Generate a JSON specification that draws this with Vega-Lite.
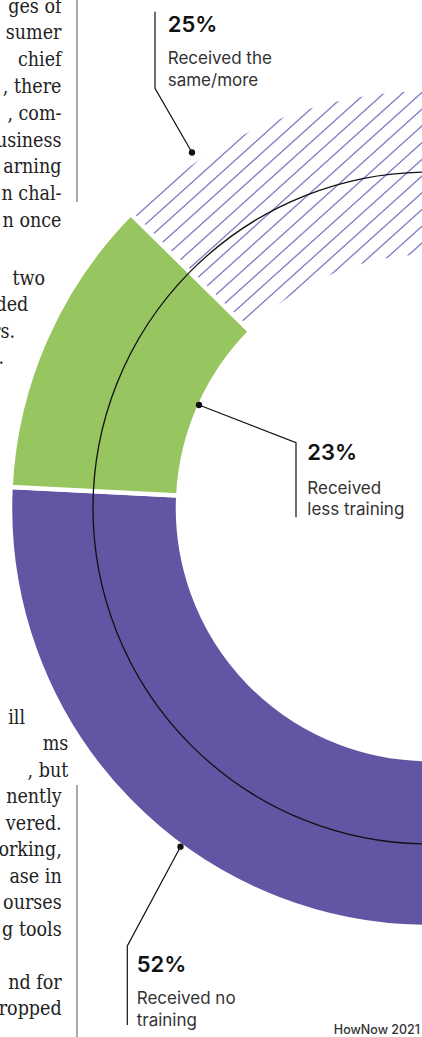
{
  "$schema": "https://vega.github.io/schema/vega-lite/v6.json",
  "width": 422,
  "height": 1037,
  "padding": 0,
  "autosize": "none",
  "background": "white",
  "config": {"view": {"stroke": null}},
  "datasets": {
    "segments": [
      {"segment": "Received no training", "pct": 52, "rank": 1},
      {"segment": "Received less training", "pct": 23, "rank": 2},
      {"segment": "Received the same/more", "pct": 25, "rank": 3}
    ],
    "leaders": [
      {"seg": "same", "i": 0, "x": -274, "y": 496.3},
      {"seg": "same", "i": 1, "x": -274, "y": 419.7},
      {"seg": "same", "i": 2, "x": -237, "y": 355.5},
      {"seg": "less", "i": 0, "x": -230, "y": 103},
      {"seg": "less", "i": 1, "x": -133, "y": 65.3},
      {"seg": "less", "i": 2, "x": -133, "y": -9.3},
      {"seg": "no", "i": 0, "x": -248.5, "y": -338.7},
      {"seg": "no", "i": 1, "x": -301.7, "y": -438},
      {"seg": "no", "i": 2, "x": -301.7, "y": -517}
    ],
    "pcts": [
      {"text": "25%", "x": -261.3, "y": 476.5},
      {"text": "23%", "x": -121.7, "y": 48},
      {"text": "52%", "x": -292.3, "y": -463.5}
    ],
    "descs": [
      {"text": "Received the", "x": -261.3, "y": 444},
      {"text": "same/more", "x": -261.3, "y": 422.5},
      {"text": "Received", "x": -121.7, "y": 14.5},
      {"text": "less training", "x": -121.7, "y": -7},
      {"text": "Received no", "x": -292.3, "y": -496},
      {"text": "training", "x": -292.3, "y": -518}
    ],
    "credit": [
      {"text": "HowNow 2021", "x": -9, "y": -526}
    ],
    "body": [
      {"text": "ges of", "x": -367.5, "y": 495.5},
      {"text": "sumer", "x": -367.5, "y": 468.7},
      {"text": "chief", "x": -367.5, "y": 441.9},
      {"text": ", there", "x": -367.5, "y": 415.1},
      {"text": ", com-", "x": -367.5, "y": 388.3},
      {"text": "usiness", "x": -367.5, "y": 361.5},
      {"text": "arning", "x": -367.5, "y": 334.7},
      {"text": "n chal-", "x": -367.5, "y": 307.9},
      {"text": "n once", "x": -367.5, "y": 281.1},
      {"text": "two", "x": -384, "y": 223.5},
      {"text": "ded", "x": -400.7, "y": 197},
      {"text": "rs.", "x": -414, "y": 170.5},
      {"text": ".", "x": -425, "y": 144},
      {"text": "ill", "x": -404, "y": -215.8},
      {"text": "ms", "x": -360.7, "y": -242.3},
      {"text": ", but", "x": -360.7, "y": -268.8},
      {"text": "nently", "x": -367.3, "y": -295.3},
      {"text": "vered.", "x": -367.3, "y": -321.8},
      {"text": "orking,", "x": -367.3, "y": -348.3},
      {"text": "ase in", "x": -367.3, "y": -374.8},
      {"text": "ourses", "x": -367.3, "y": -401.3},
      {"text": "g tools", "x": -367.3, "y": -427.8},
      {"text": "nd for", "x": -367.3, "y": -480.8},
      {"text": "ropped", "x": -367.3, "y": -507.3}
    ],
    "rules": [
      {"x": -352, "y": 508, "y2": 306},
      {"x": -352, "y": -277, "y2": -529}
    ]
  },
  "layer": [
    {
      "data": {"name": "segments"},
      "mark": {"type": "arc", "radius": 419, "radius2": 251, "stroke": "white", "strokeWidth": 4.5, "clip": true},
      "encoding": {
        "x": {"datum": 0, "type": "quantitative", "scale": {"domain": [-429, -7], "nice": false, "zero": false}, "axis": null},
        "y": {"datum": 0, "type": "quantitative", "scale": {"domain": [-529, 508], "nice": false, "zero": false}, "axis": null},
        "theta": {"field": "pct", "type": "quantitative", "stack": true, "scale": {"domain": [0, 100], "range": [3.11541, 6.28318531]}},
        "order": {"field": "rank", "type": "quantitative"},
        "fill": {
          "field": "segment",
          "type": "nominal",
          "scale": {"domain": ["Received no training", "Received less training", "Received the same/more"], "range": ["#6255a3", "#97c55f", "#ffffff"]},
          "legend": null,
          "condition": {
            "test": "datum.segment === 'Received the same/more'",
            "value": {
              "gradient": "linear", "x1": 0, "y1": 0, "x2": 1.0479, "y2": 0.9471,
              "stops": [
                {"offset": 0, "color": "#ffffff"},
                {"offset": 0.02587, "color": "#ffffff"}, {"offset": 0.02747, "color": "#958bcc"}, {"offset": 0.02987, "color": "#958bcc"}, {"offset": 0.03147, "color": "#ffffff"},
                {"offset": 0.05860, "color": "#ffffff"}, {"offset": 0.06020, "color": "#958bcc"}, {"offset": 0.06260, "color": "#958bcc"}, {"offset": 0.06420, "color": "#ffffff"},
                {"offset": 0.09132, "color": "#ffffff"}, {"offset": 0.09292, "color": "#958bcc"}, {"offset": 0.09532, "color": "#958bcc"}, {"offset": 0.09692, "color": "#ffffff"},
                {"offset": 0.12405, "color": "#ffffff"}, {"offset": 0.12565, "color": "#958bcc"}, {"offset": 0.12805, "color": "#958bcc"}, {"offset": 0.12965, "color": "#ffffff"},
                {"offset": 0.15677, "color": "#ffffff"}, {"offset": 0.15837, "color": "#958bcc"}, {"offset": 0.16077, "color": "#958bcc"}, {"offset": 0.16237, "color": "#ffffff"},
                {"offset": 0.18950, "color": "#ffffff"}, {"offset": 0.19110, "color": "#958bcc"}, {"offset": 0.19350, "color": "#958bcc"}, {"offset": 0.19510, "color": "#ffffff"},
                {"offset": 0.22222, "color": "#ffffff"}, {"offset": 0.22382, "color": "#958bcc"}, {"offset": 0.22622, "color": "#958bcc"}, {"offset": 0.22782, "color": "#ffffff"},
                {"offset": 0.25495, "color": "#ffffff"}, {"offset": 0.25655, "color": "#958bcc"}, {"offset": 0.25895, "color": "#958bcc"}, {"offset": 0.26055, "color": "#ffffff"},
                {"offset": 0.28767, "color": "#ffffff"}, {"offset": 0.28927, "color": "#958bcc"}, {"offset": 0.29167, "color": "#958bcc"}, {"offset": 0.29327, "color": "#ffffff"},
                {"offset": 0.32040, "color": "#ffffff"}, {"offset": 0.32200, "color": "#958bcc"}, {"offset": 0.32440, "color": "#958bcc"}, {"offset": 0.32600, "color": "#ffffff"},
                {"offset": 0.35312, "color": "#ffffff"}, {"offset": 0.35472, "color": "#958bcc"}, {"offset": 0.35712, "color": "#958bcc"}, {"offset": 0.35872, "color": "#ffffff"},
                {"offset": 0.38585, "color": "#ffffff"}, {"offset": 0.38745, "color": "#958bcc"}, {"offset": 0.38985, "color": "#958bcc"}, {"offset": 0.39145, "color": "#ffffff"},
                {"offset": 0.41857, "color": "#ffffff"}, {"offset": 0.42017, "color": "#958bcc"}, {"offset": 0.42257, "color": "#958bcc"}, {"offset": 0.42417, "color": "#ffffff"},
                {"offset": 0.45130, "color": "#ffffff"}, {"offset": 0.45290, "color": "#958bcc"}, {"offset": 0.45530, "color": "#958bcc"}, {"offset": 0.45690, "color": "#ffffff"},
                {"offset": 0.48402, "color": "#ffffff"}, {"offset": 0.48562, "color": "#958bcc"}, {"offset": 0.48802, "color": "#958bcc"}, {"offset": 0.48962, "color": "#ffffff"},
                {"offset": 0.51675, "color": "#ffffff"}, {"offset": 0.51835, "color": "#958bcc"}, {"offset": 0.52075, "color": "#958bcc"}, {"offset": 0.52235, "color": "#ffffff"},
                {"offset": 0.54947, "color": "#ffffff"}, {"offset": 0.55107, "color": "#958bcc"}, {"offset": 0.55347, "color": "#958bcc"}, {"offset": 0.55507, "color": "#ffffff"},
                {"offset": 0.58220, "color": "#ffffff"}, {"offset": 0.58380, "color": "#958bcc"}, {"offset": 0.58620, "color": "#958bcc"}, {"offset": 0.58780, "color": "#ffffff"},
                {"offset": 0.61492, "color": "#ffffff"}, {"offset": 0.61652, "color": "#958bcc"}, {"offset": 0.61892, "color": "#958bcc"}, {"offset": 0.62052, "color": "#ffffff"},
                {"offset": 0.64765, "color": "#ffffff"}, {"offset": 0.64925, "color": "#958bcc"}, {"offset": 0.65165, "color": "#958bcc"}, {"offset": 0.65325, "color": "#ffffff"},
                {"offset": 0.68037, "color": "#ffffff"}, {"offset": 0.68197, "color": "#958bcc"}, {"offset": 0.68437, "color": "#958bcc"}, {"offset": 0.68597, "color": "#ffffff"},
                {"offset": 0.71310, "color": "#ffffff"}, {"offset": 0.71470, "color": "#958bcc"}, {"offset": 0.71710, "color": "#958bcc"}, {"offset": 0.71870, "color": "#ffffff"},
                {"offset": 0.74582, "color": "#ffffff"}, {"offset": 0.74742, "color": "#958bcc"}, {"offset": 0.74982, "color": "#958bcc"}, {"offset": 0.75142, "color": "#ffffff"},
                {"offset": 0.77855, "color": "#ffffff"}, {"offset": 0.78015, "color": "#958bcc"}, {"offset": 0.78255, "color": "#958bcc"}, {"offset": 0.78415, "color": "#ffffff"},
                {"offset": 0.81127, "color": "#ffffff"}, {"offset": 0.81287, "color": "#958bcc"}, {"offset": 0.81527, "color": "#958bcc"}, {"offset": 0.81687, "color": "#ffffff"},
                {"offset": 0.84400, "color": "#ffffff"}, {"offset": 0.84560, "color": "#958bcc"}, {"offset": 0.84800, "color": "#958bcc"}, {"offset": 0.84960, "color": "#ffffff"},
                {"offset": 0.87672, "color": "#ffffff"}, {"offset": 0.87832, "color": "#958bcc"}, {"offset": 0.88072, "color": "#958bcc"}, {"offset": 0.88232, "color": "#ffffff"},
                {"offset": 0.90945, "color": "#ffffff"}, {"offset": 0.91105, "color": "#958bcc"}, {"offset": 0.91345, "color": "#958bcc"}, {"offset": 0.91505, "color": "#ffffff"},
                {"offset": 0.94217, "color": "#ffffff"}, {"offset": 0.94377, "color": "#958bcc"}, {"offset": 0.94617, "color": "#958bcc"}, {"offset": 0.94777, "color": "#ffffff"},
                {"offset": 0.97490, "color": "#ffffff"}, {"offset": 0.97650, "color": "#958bcc"}, {"offset": 0.97890, "color": "#958bcc"}, {"offset": 0.98050, "color": "#ffffff"},
                {"offset": 1, "color": "#ffffff"}
              ]
            }
          }
        }
      }
    },
    {
      "data": {"values": [{"ring": "guide"}]},
      "mark": {"type": "arc", "theta": 0, "theta2": 6.2832, "radius": 336, "radius2": 0, "filled": false, "color": "#111111", "strokeWidth": 1.3, "clip": true},
      "encoding": {
        "x": {"datum": 0, "type": "quantitative", "scale": {"domain": [-429, -7], "nice": false, "zero": false}, "axis": null},
        "y": {"datum": 0, "type": "quantitative", "scale": {"domain": [-529, 508], "nice": false, "zero": false}, "axis": null}
      }
    },
    {
      "data": {"name": "rules"},
      "mark": {"type": "rule", "color": "#6f6f6f", "strokeWidth": 1.2},
      "encoding": {
        "x": {"field": "x", "type": "quantitative", "scale": {"domain": [-429, -7], "nice": false, "zero": false}, "axis": null},
        "y": {"field": "y", "type": "quantitative", "scale": {"domain": [-529, 508], "nice": false, "zero": false}, "axis": null},
        "y2": {"field": "y2"}
      }
    },
    {
      "data": {"name": "leaders"},
      "mark": {"type": "line", "color": "#111111", "strokeWidth": 1.2},
      "encoding": {
        "x": {"field": "x", "type": "quantitative", "scale": {"domain": [-429, -7], "nice": false, "zero": false}, "axis": null},
        "y": {"field": "y", "type": "quantitative", "scale": {"domain": [-529, 508], "nice": false, "zero": false}, "axis": null},
        "detail": {"field": "seg", "type": "nominal"},
        "order": {"field": "i", "type": "quantitative"}
      }
    },
    {
      "data": {"name": "leaders"},
      "transform": [{"filter": "(datum.seg === 'same' && datum.i === 2) || (datum.seg !== 'same' && datum.i === 0)"}],
      "mark": {"type": "point", "filled": true, "color": "#111111", "size": 40, "opacity": 1},
      "encoding": {
        "x": {"field": "x", "type": "quantitative", "scale": {"domain": [-429, -7], "nice": false, "zero": false}, "axis": null},
        "y": {"field": "y", "type": "quantitative", "scale": {"domain": [-529, 508], "nice": false, "zero": false}, "axis": null}
      }
    },
    {
      "data": {"name": "pcts"},
      "mark": {"type": "text", "font": "Inter", "fontSize": 22, "fontWeight": 600, "color": "#111111", "align": "left", "baseline": "alphabetic"},
      "encoding": {
        "x": {"field": "x", "type": "quantitative", "scale": {"domain": [-429, -7], "nice": false, "zero": false}, "axis": null},
        "y": {"field": "y", "type": "quantitative", "scale": {"domain": [-529, 508], "nice": false, "zero": false}, "axis": null},
        "text": {"field": "text"}
      }
    },
    {
      "data": {"name": "descs"},
      "mark": {"type": "text", "font": "Inter", "fontSize": 17, "fontWeight": 400, "color": "#333333", "align": "left", "baseline": "alphabetic"},
      "encoding": {
        "x": {"field": "x", "type": "quantitative", "scale": {"domain": [-429, -7], "nice": false, "zero": false}, "axis": null},
        "y": {"field": "y", "type": "quantitative", "scale": {"domain": [-529, 508], "nice": false, "zero": false}, "axis": null},
        "text": {"field": "text"}
      }
    },
    {
      "data": {"name": "credit"},
      "mark": {"type": "text", "font": "Inter", "fontSize": 12.5, "fontWeight": 500, "color": "#333333", "align": "right", "baseline": "alphabetic"},
      "encoding": {
        "x": {"field": "x", "type": "quantitative", "scale": {"domain": [-429, -7], "nice": false, "zero": false}, "axis": null},
        "y": {"field": "y", "type": "quantitative", "scale": {"domain": [-529, 508], "nice": false, "zero": false}, "axis": null},
        "text": {"field": "text"}
      }
    },
    {
      "data": {"name": "body"},
      "mark": {"type": "text", "font": "DejaVu Serif Condensed, DejaVu Serif", "fontSize": 19.5, "color": "#222222", "align": "right", "baseline": "alphabetic", "clip": true},
      "encoding": {
        "x": {"field": "x", "type": "quantitative", "scale": {"domain": [-429, -7], "nice": false, "zero": false}, "axis": null},
        "y": {"field": "y", "type": "quantitative", "scale": {"domain": [-529, 508], "nice": false, "zero": false}, "axis": null},
        "text": {"field": "text"}
      }
    }
  ]
}
